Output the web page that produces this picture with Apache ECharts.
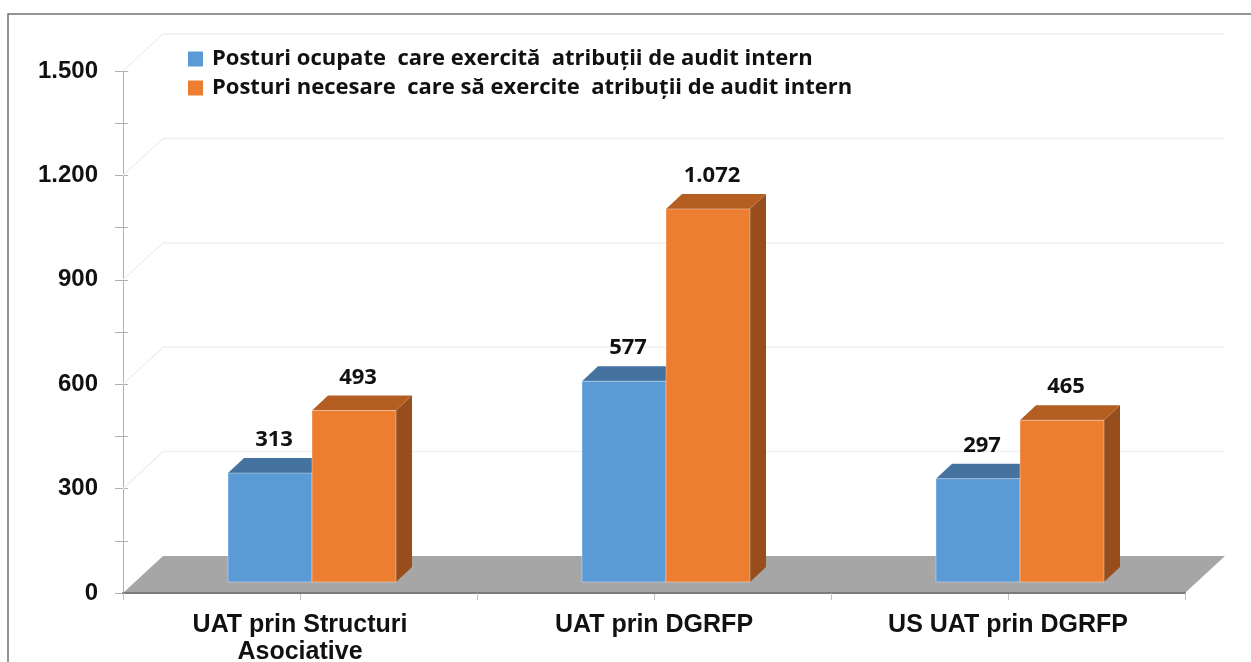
<!DOCTYPE html>
<html>
<head>
<meta charset="utf-8">
<script src="https://cdn.jsdelivr.net/npm/echarts@6/dist/echarts.min.js"></script>
<style>
  html, body { margin: 0; padding: 0; background: #fff; }
  #chart { width: 1251px; height: 662px; }
</style>
</head>
<body>
<div id="chart"></div>
<script>
// date
let categories = ['UAT prin Structuri\nAsociative', 'UAT prin DGRFP', 'US UAT prin DGRFP'];
let seriesNames = [
    'Posturi ocupate  care exercită  atribuții de audit intern',
    'Posturi necesare  care să exercite  atribuții de audit intern'
];
let ocupate = [313, 577, 297];
let necesare = [493, 1072, 465];
let yTicks = [300, 600, 900, 1200, 1500];

// culori fete: fata, sus, lateral
let faceColors = [
    ['#5b9bd5', '#44739f', '#3a6a94'],
    ['#ed7d31', '#b55e22', '#984e1c']
];

let chartDom = document.getElementById('chart');
let myChart = echarts.init(chartDom);
let option;

// adancimea "3D"
let DEPTH = [40, -37];
let FRONT = [12, -11];
let BAR_D = [16, -15];
let BAR_RATIO = 84 / 354;

function fmt(v) {
    return String(v).replace(/\B(?=(\d{3})+(?!\d))/g, '.');
}

function barRenderer(idx) {
    return function (params, api) {
        let cat = api.value(0);
        let val = api.value(1);
        let base = api.coord([cat, 0]);
        let top = api.coord([cat, val]);
        let w = api.size([1, 0])[0] * BAR_RATIO;
        let x0 = base[0] - w + idx * w + FRONT[0];
        let x1 = x0 + w;
        let yb = base[1] + FRONT[1];
        let yt = top[1] + FRONT[1];
        let c = faceColors[idx];
        return {
            type: 'group',
            children: [
                {
                    type: 'polygon',
                    shape: {points: [[x1, yb], [x1 + BAR_D[0], yb + BAR_D[1]], [x1 + BAR_D[0], yt + BAR_D[1]], [x1, yt]]},
                    style: {fill: c[2]}
                },
                {
                    type: 'polygon',
                    shape: {points: [[x0, yt], [x1, yt], [x1 + BAR_D[0], yt + BAR_D[1]], [x0 + BAR_D[0], yt + BAR_D[1]]]},
                    style: {fill: c[1]}
                },
                {
                    type: 'rect',
                    shape: {x: x0, y: yt, width: w, height: yb - yt},
                    style: {fill: c[0], stroke: 'rgba(255,255,255,0.35)', lineWidth: 1}
                },
                {
                    type: 'text',
                    x: x0 + w / 2 + 4,
                    y: yt - 33,
                    style: {
                        text: fmt(val),
                        fill: '#111',
                        font: 'bold 22px "Open Sans"',
                        align: 'center',
                        verticalAlign: 'middle'
                    }
                }
            ]
        };
    };
}

option = {
    animation: false,
    graphic: [{
        type: 'rect',
        shape: {x: 8, y: 14, width: 1400, height: 800},
        style: {fill: 'none', stroke: '#707070', lineWidth: 1.5},
        z: 100
    }],
    legend: {
        orient: 'vertical',
        left: 188,
        top: 48,
        padding: 0,
        icon: 'rect',
        itemWidth: 15,
        itemHeight: 15,
        itemGap: 7,
        data: seriesNames,
        textStyle: {
            fontFamily: 'Open Sans',
            fontWeight: 'bold',
            fontSize: 22,
            color: '#111',
            padding: [0, 0, 0, 4]
        }
    },
    grid: {
        left: 123,
        right: 66,
        top: 71,
        bottom: 69,
        outerBoundsMode: 'none'
    },
    xAxis: [{
        type: 'category',
        data: categories,
        boundaryGap: true,
        axisLine: {show: true, lineStyle: {color: '#7a7a7a', width: 2}},
        axisTick: {show: true, length: 7, lineStyle: {color: '#c0c0c0'}},
        axisLabel: {
            interval: 0,
            margin: 19,
            fontFamily: 'Liberation Sans',
            fontWeight: 'bold',
            fontSize: 25,
            lineHeight: 27,
            color: '#111'
        },
        z: 10
    }, {
        type: 'category',
        data: categories,
        position: 'bottom',
        boundaryGap: true,
        axisLine: {show: false},
        axisTick: {show: true, alignWithLabel: true, length: 7, lineStyle: {color: '#c0c0c0'}},
        axisLabel: {show: false}
    }],
    yAxis: [{
        type: 'value',
        min: 0,
        max: 1500,
        interval: 300,
        axisLine: {show: true, lineStyle: {color: '#b0b0b0'}},
        axisTick: {show: true, length: 8, lineStyle: {color: '#b0b0b0'}},
        minorTick: {show: true, splitNumber: 2, length: 8, lineStyle: {color: '#b0b0b0'}},
        splitLine: {show: false},
        axisLabel: {
            margin: 25,
            fontFamily: 'Liberation Sans',
            fontWeight: 'bold',
            fontSize: 24,
            color: '#111',
            formatter: fmt
        }
    }, {
        type: 'value',
        min: 0,
        max: 1500,
        interval: 150,
        position: 'left',
        axisLine: {show: false},
        axisTick: {show: true, inside: true, length: 5, lineStyle: {color: '#b0b0b0'}},
        axisLabel: {show: false},
        splitLine: {show: false}
    }],
    series: [
        {
            // peretele din spate
            type: 'custom',
            silent: true,
            z: 1,
            data: yTicks.map(function (v) { return [0, v]; }),
            renderItem: function (params, api) {
                let cs = params.coordSys;
                let y = api.coord([0, api.value(1)])[1];
                return {
                    type: 'polyline',
                    shape: {points: [[cs.x, y], [cs.x + DEPTH[0], y + DEPTH[1]], [cs.x + cs.width + DEPTH[0], y + DEPTH[1]]]},
                    style: {stroke: '#f0f0f0', lineWidth: 1.5, fill: 'none'}
                };
            }
        },
        {
            // podeaua
            type: 'custom',
            silent: true,
            z: 2,
            data: [[0, 0]],
            renderItem: function (params, api) {
                let cs = params.coordSys;
                let y = api.coord([0, 0])[1];
                let xl = cs.x, xr = cs.x + cs.width;
                return {
                    type: 'polygon',
                    shape: {points: [[xl, y], [xl + DEPTH[0], y + DEPTH[1]], [xr + DEPTH[0], y + DEPTH[1]], [xr, y]]},
                    style: {fill: '#a6a6a6'}
                };
            }
        },
        {
            name: seriesNames[0],
            type: 'custom',
            z: 3,
            itemStyle: {color: faceColors[0][0]},
            data: ocupate.map(function (v, i) { return [i, v]; }),
            renderItem: barRenderer(0)
        },
        {
            name: seriesNames[1],
            type: 'custom',
            z: 3,
            itemStyle: {color: faceColors[1][0]},
            data: necesare.map(function (v, i) { return [i, v]; }),
            renderItem: barRenderer(1)
        }
    ]
};

myChart.setOption(option, true);

window.addEventListener('resize', () => {
    myChart.resize()
})
</script>
</body>
</html>
